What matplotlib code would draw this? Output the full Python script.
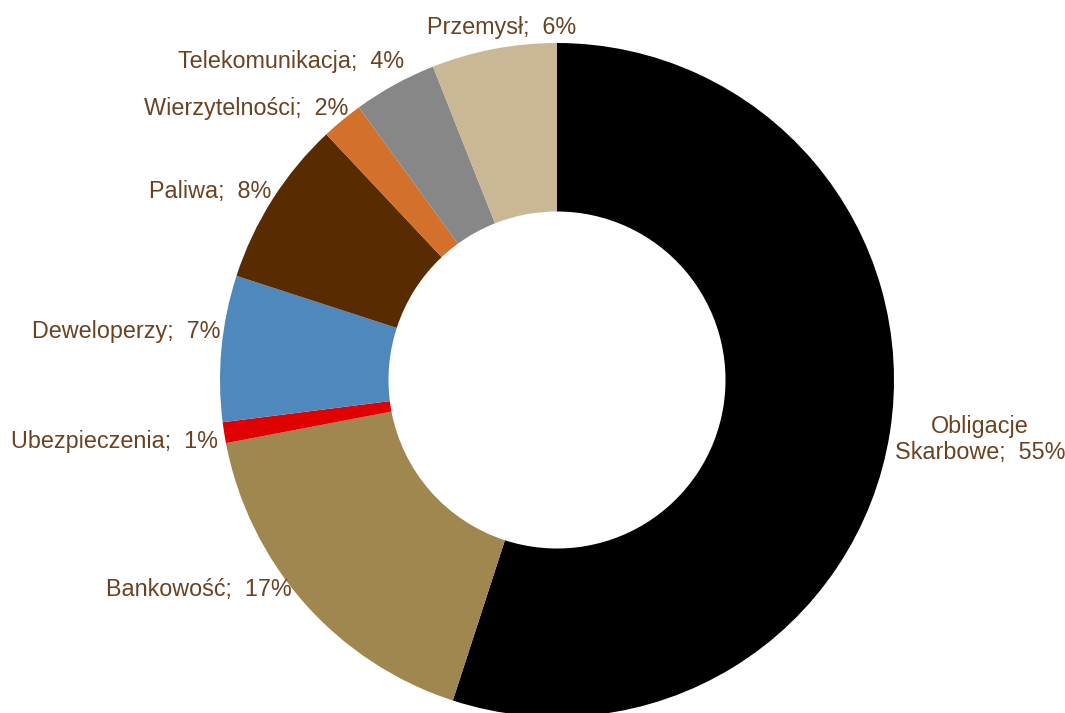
import numpy as np
import matplotlib.pyplot as plt

# dane: struktura portfela (%)
kategorie = ['Obligacje\nSkarbowe', 'Bankowość', 'Ubezpieczenia', 'Deweloperzy',
             'Paliwa', 'Wierzytelności', 'Telekomunikacja', 'Przemysł']
udzialy = [55, 17, 1, 7, 8, 2, 4, 6]
kolory = ['#000000', '#A0864F', '#E00000', '#4F88BC',
          '#582C00', '#D2702C', '#878787', '#C9B795']

# przesunięcia etykiet (piksele) i wyrównanie
przesuniecia = [(5, -7), (-12, 13), (-6, -9), (-1, 17),
                (-1, 8), (6, 12), (9, 23), (8, 21)]
wyrownanie = ['left', 'right', 'right', 'right', 'right', 'right', 'right', 'center']
kolor_tekstu = '#6B4220'

plt.rcParams['font.family'] = ['Liberation Sans', 'DejaVu Sans']

fig = plt.figure(figsize=(10.65, 7.13), dpi=100)
ax = fig.add_axes([0, 0, 1, 1])

wedges, _ = ax.pie(udzialy, colors=kolory, startangle=90, counterclock=False,
                   radius=1.0, wedgeprops=dict(width=0.5, linewidth=0))

for w, nazwa, wart, (dx, dy), ha in zip(wedges, kategorie, udzialy, przesuniecia, wyrownanie):
    kat = np.deg2rad((w.theta1 + w.theta2) / 2)
    x, y = np.cos(kat), np.sin(kat)
    ax.annotate(f'{nazwa};  {wart}%', xy=(x, y), xytext=(dx, dy),
                textcoords='offset pixels', ha=ha, va='center',
                multialignment='center', linespacing=1.15,
                fontsize=16.8, color=kolor_tekstu)

# środek wykresu ok. (557, 380) px, promień 337 px
r_px = 337.0
cx, cy = 557.0, 380.0
ax.set_xlim(-cx / r_px, (1065 - cx) / r_px)
ax.set_ylim(-(713 - cy) / r_px, cy / r_px)
ax.set_aspect('auto')
ax.axis('off')

fig.savefig('out.png', dpi=100, facecolor='white')
